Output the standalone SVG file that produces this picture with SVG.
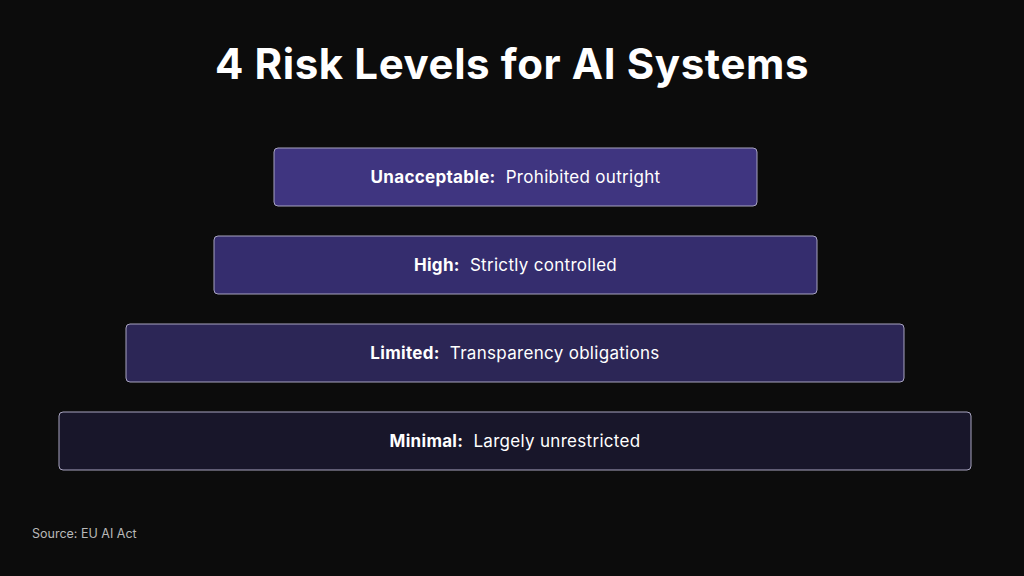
<svg xmlns="http://www.w3.org/2000/svg" width="1024" height="576" viewBox="0 0 1024 576">
<style>
.t{font-family:Inter,"Liberation Sans",sans-serif;fill:#ffffff;white-space:pre;}
.title{font-size:42px;font-weight:700;letter-spacing:0.6px;}
.lbl{font-size:17px;letter-spacing:0.3px;}
.b{font-weight:700;}
.box{stroke:#a8a4c0;stroke-width:1;}
.src{font-family:Inter,"Liberation Sans",sans-serif;font-size:12.5px;fill:#b8b8b8;}
</style>
<rect width="1024" height="576" fill="#0c0c0c"/>
<text class="t title" x="512" y="79" text-anchor="middle">4 Risk Levels for AI Systems</text>
<g id="unacceptable">
<rect class="box" x="274" y="148" width="483" height="58" rx="4" fill="#3f3580"/>
<text class="t lbl" x="515.5" y="183" text-anchor="middle" xml:space="preserve"><tspan class="b">Unacceptable:</tspan>  Prohibited outright</text>
</g>
<g id="high">
<rect class="box" x="214" y="236" width="603" height="58" rx="4" fill="#352d6e"/>
<text class="t lbl" x="515.5" y="271" text-anchor="middle" xml:space="preserve"><tspan class="b">High:</tspan>  Strictly controlled</text>
</g>
<g id="limited">
<rect class="box" x="126" y="324" width="778" height="58" rx="4" fill="#2c2656"/>
<text class="t lbl" x="515" y="359" text-anchor="middle" xml:space="preserve"><tspan class="b">Limited:</tspan>  Transparency obligations</text>
</g>
<g id="minimal">
<rect class="box" x="59" y="412" width="912" height="58" rx="4" fill="#18162a"/>
<text class="t lbl" x="515" y="447" text-anchor="middle" xml:space="preserve"><tspan class="b">Minimal:</tspan>  Largely unrestricted</text>
</g>
<g id="connectors"></g>
<text class="src" x="32" y="538">Source: EU AI Act</text>
</svg>
